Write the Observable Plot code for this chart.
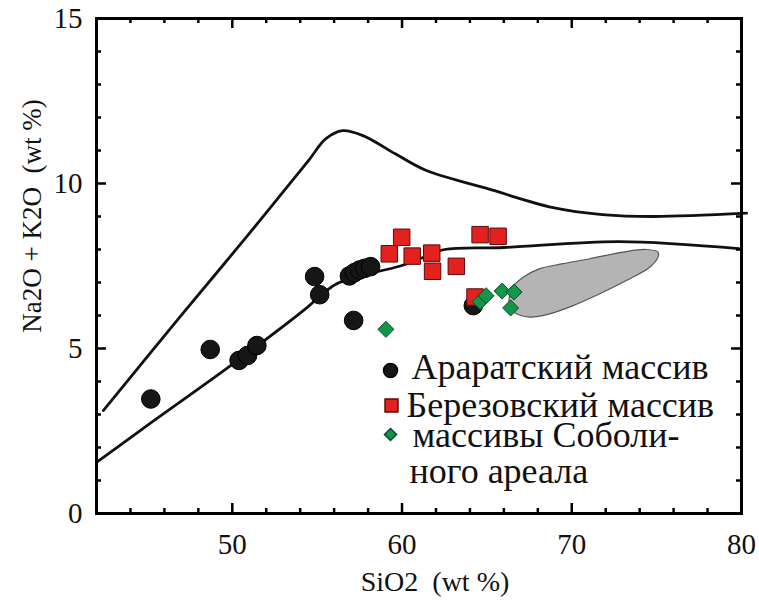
<!DOCTYPE html>
<html>
<head>
<meta charset="utf-8">
<script src="https://cdn.jsdelivr.net/npm/d3@7"></script>
<script src="https://cdn.jsdelivr.net/npm/@observablehq/plot@0.6"></script>
<style>
  html, body { margin: 0; padding: 0; background: #fff; }
  #chart svg { display: block; }
  #chart svg, #chart svg text { font-family: "Liberation Serif", "DejaVu Serif", serif; }
</style>
</head>
<body>
<div id="chart"></div>
<script>
// ---- data ----
const araratX = [45.2, 48.7, 50.4, 50.9, 51.45, 54.85, 55.15, 57.15, 56.9, 57.2, 57.5, 57.8, 58.15, 64.2];
const araratY = [3.47, 4.97, 4.64, 4.79, 5.09, 7.18, 6.63, 5.85, 7.2, 7.3, 7.38, 7.43, 7.48, 6.3];

const berezX = [59.98, 59.25, 60.6, 61.75, 61.8, 63.2, 64.6, 65.66, 64.3];
const berezY = [8.37, 7.87, 7.8, 7.89, 7.34, 7.49, 8.45, 8.4, 6.56];

const sobolX = [59.05, 64.6, 64.95, 65.9, 66.6, 66.4];
const sobolY = [5.58, 6.42, 6.6, 6.74, 6.71, 6.23];

// upper boundary curve
const upperX = [42.4, 47.1, 50.8, 54.5, 55.5, 56.5, 57.7, 59.6, 61.4, 65.0, 68.9, 71.8, 74.8, 80.3];
const upperY = [3.12, 6.07, 8.36, 10.7, 11.35, 11.6, 11.45, 10.9, 10.4, 9.85, 9.27, 9.06, 9.0, 9.1];

// lower boundary curve
const lowerX = [42.0, 45.4, 49.9, 54.4, 55.3, 56.1, 57.1, 59.9, 61.2, 62.5, 66.0, 72.8, 80.0];
const lowerY = [1.55, 2.82, 4.48, 6.24, 6.65, 6.95, 7.15, 7.5, 7.75, 8.0, 8.06, 8.24, 8.02];

// grey field outline
const blobX = [66.35, 66.45, 67.14, 68.12, 69.49, 71.06, 73.02, 74.39, 75.08, 75.08, 74.59, 73.22, 71.65, 70.08, 68.7, 67.53, 66.75];
const blobY = [6.25, 6.81, 7.16, 7.42, 7.57, 7.72, 7.92, 8.0, 7.92, 7.77, 7.46, 7.06, 6.66, 6.3, 6.05, 5.95, 6.05];

// ticks & labels
const xLabelTicks = [50, 60, 70, 80];
const xMinorTicks = [44, 46, 48, 52, 54, 56, 58, 62, 64, 66, 68, 72, 74, 76, 78];
const yLabelTicks = [0, 5, 10, 15];
const yMinorTicks = [1, 2, 3, 4, 6, 7, 8, 9, 11, 12, 13, 14];
const xTitle = "SiO2  (wt %)";
const yTitle = "Na2O + K2O  (wt %)";
const legendNames = ["Араратский массив", "Березовский массив", "массивы Соболи-", "ного ареала"];

// ---- build tables ----
const zip = (xs, ys) => xs.map((x, i) => ({x, y: ys[i]}));
const ararat = zip(araratX, araratY);
const berez = zip(berezX, berezY);
const sobol = zip(sobolX, sobolY);
const upper = zip(upperX, upperY);
const lower = zip(lowerX, lowerY);
const blob = zip(blobX, blobY);

const W = 759, H = 602;
const mL = 96, mR = 18, mT = 18, mB = 89;
const pw = W - mL - mR, ph = H - mT - mB;
const major = 10, minor = 5;
const font = "Liberation Serif";
const red = "#e3211f", green = "#12964a", black = "#161616";

const tickStyle = {stroke: "#000", strokeWidth: 2.5};
const txt = {fontFamily: font, fill: "#111"};

const chart = Plot.plot({
  width: W,
  height: H,
  marginLeft: mL,
  marginRight: mR,
  marginTop: mT,
  marginBottom: mB,
  style: {fontFamily: font},
  x: {domain: [42, 80], axis: null},
  y: {domain: [0, 15], axis: null},
  marks: [
    // grey field
    Plot.line(blob, {x: "x", y: "y", curve: "catmull-rom-closed", fill: "#b4b4b4", stroke: "#555", strokeWidth: 1.2}),
    // boundary curves
    Plot.line(upper, {x: "x", y: "y", curve: "catmull-rom", stroke: "#111", strokeWidth: 2.8, clip: false}),
    Plot.line(lower, {x: "x", y: "y", curve: "catmull-rom", stroke: "#111", strokeWidth: 2.8}),
    // data
    Plot.dot(ararat, {x: "x", y: "y", r: 9.3, fill: black, stroke: "#000", strokeWidth: 1}),
    Plot.dot(berez, {x: "x", y: "y", symbol: "square", r: 9.3, fill: red, stroke: "#5a0a0a", strokeWidth: 1}),
    Plot.dot(sobol, {x: "x", y: "y", symbol: "diamond2", r: 7.2, fill: green, stroke: "#0a4a22", strokeWidth: 1}),
    // ticks (inward)
    Plot.ruleX(xLabelTicks, {x: d => d, insetTop: ph - major, ...tickStyle}),
    Plot.ruleX(xMinorTicks, {x: d => d, insetTop: ph - minor, ...tickStyle}),
    Plot.ruleX(xLabelTicks, {x: d => d, insetBottom: ph - major, ...tickStyle}),
    Plot.ruleX(xMinorTicks, {x: d => d, insetBottom: ph - minor, ...tickStyle}),
    Plot.ruleY(yLabelTicks, {y: d => d, insetRight: pw - major, ...tickStyle}),
    Plot.ruleY(yMinorTicks, {y: d => d, insetRight: pw - minor, ...tickStyle}),
    Plot.ruleY(yLabelTicks, {y: d => d, insetLeft: pw - major, ...tickStyle}),
    Plot.ruleY(yMinorTicks, {y: d => d, insetLeft: pw - minor, ...tickStyle}),
    Plot.frame({stroke: "#000", strokeWidth: 3}),
    // tick labels
    Plot.axisX({ticks: xLabelTicks, tickSize: 0, tickPadding: 20, fontSize: 29, ...txt, label: null, tickFormat: d => String(d)}),
    Plot.axisY({ticks: yLabelTicks, tickSize: 0, tickPadding: 14, fontSize: 29, ...txt, label: null, tickFormat: d => String(d)}),
    // axis titles
    Plot.text([xTitle], {text: d => d, frameAnchor: "bottom", dx: 16, dy: 69, textAnchor: "middle", lineAnchor: "middle", fontSize: 28, ...txt}),
    Plot.text([yTitle], {text: d => d, frameAnchor: "left", dx: -64, dy: -50, rotate: -90, textAnchor: "middle", lineAnchor: "middle", fontSize: 27, ...txt}),
    // legend
    Plot.dot([0], {frameAnchor: "top-left", dx: 294, dy: 352, r: 7, fill: black, stroke: "#000"}),
    Plot.dot([0], {frameAnchor: "top-left", dx: 295, dy: 387, symbol: "square", r: 7.3, fill: red, stroke: "#5a0a0a"}),
    Plot.dot([0], {frameAnchor: "top-left", dx: 294, dy: 416, symbol: "diamond2", r: 5.4, fill: green, stroke: "#0a4a22"}),
    Plot.text([legendNames[0]], {text: d => d, frameAnchor: "top-left", dx: 315, dy: 348.5, textAnchor: "start", lineAnchor: "middle", fontSize: 36, ...txt}),
    Plot.text([legendNames[1]], {text: d => d, frameAnchor: "top-left", dx: 310, dy: 386.5, textAnchor: "start", lineAnchor: "middle", fontSize: 36, ...txt}),
    Plot.text([legendNames[2]], {text: d => d, frameAnchor: "top-left", dx: 316, dy: 416.5, textAnchor: "start", lineAnchor: "middle", fontSize: 36, ...txt}),
    Plot.text([legendNames[3]], {text: d => d, frameAnchor: "top-left", dx: 313, dy: 452.5, textAnchor: "start", lineAnchor: "middle", fontSize: 36, ...txt})
  ]
});
chart.setAttribute("font-family", font);
d3.select(chart).selectAll("text").attr("font-family", font);
document.getElementById("chart").appendChild(chart);
</script>
</body>
</html>
